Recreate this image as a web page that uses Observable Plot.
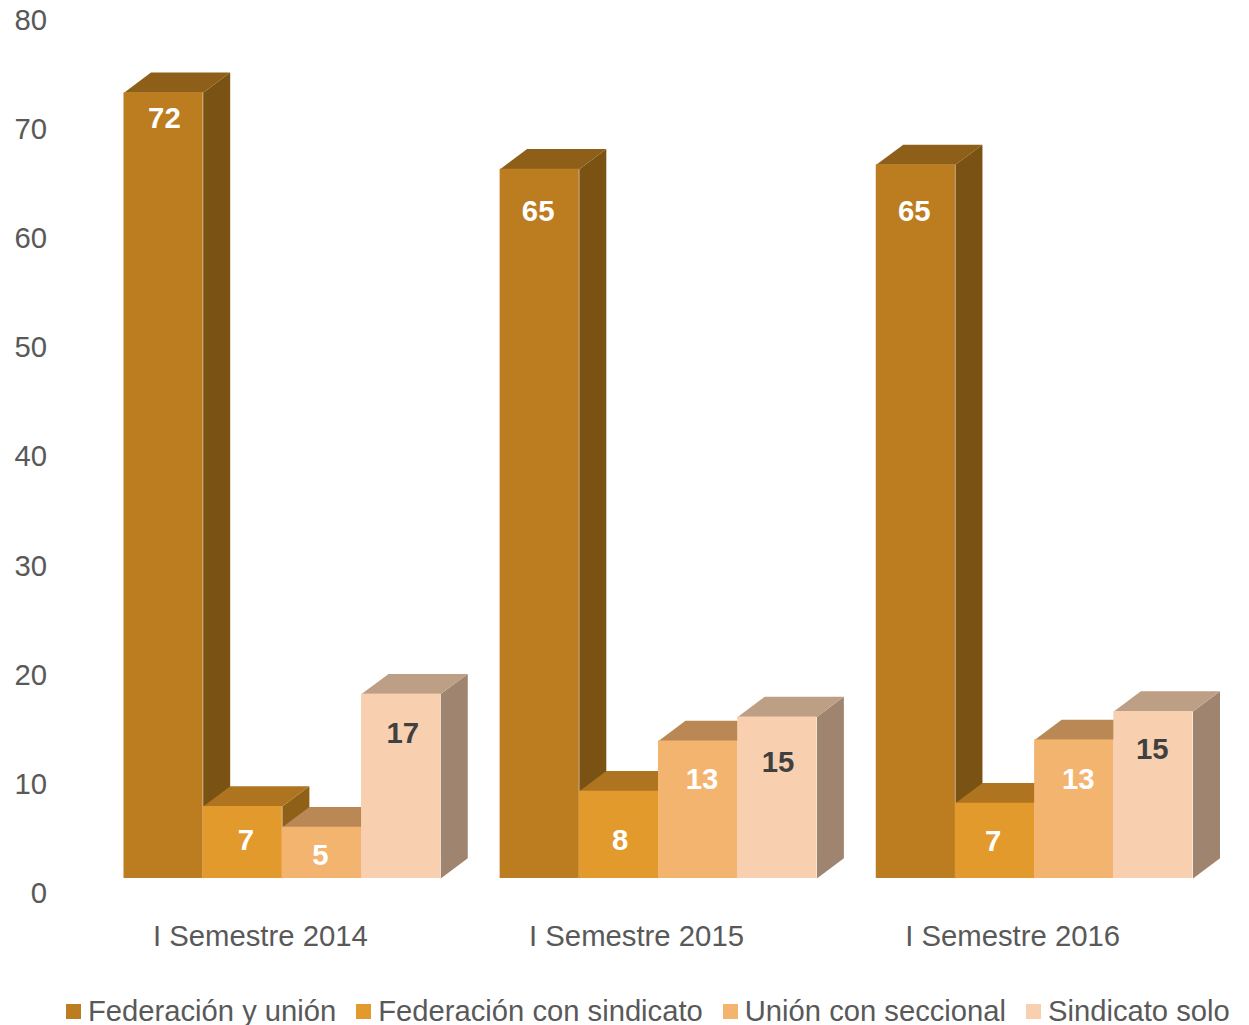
<!DOCTYPE html>
<html lang="es">
<head>
<meta charset="utf-8">
<script src="https://cdn.jsdelivr.net/npm/d3@7"></script>
<script src="https://cdn.jsdelivr.net/npm/@observablehq/plot@0.6"></script>
<style>
  html, body { margin: 0; padding: 0; background: #fff; overflow: hidden; }
  svg { display: block; }
  #legend { position: absolute; left: 66px; top: 990px; display: flex; align-items: center; height: 42px;
    font: 29.2px "Liberation Sans", Arial, sans-serif; color: #595959; white-space: nowrap; }
  #legend .item { display: flex; align-items: center; margin-right: 20px; }
  #legend .sw { width: 15px; height: 15px; margin-right: 7px; }
</style>
</head>
<body>
<div id="chart"></div>
<div id="legend"></div>
<script>
const periods = ["I Semestre 2014", "I Semestre 2015", "I Semestre 2016"];
const seriesNames = ["Federación y unión", "Federación con sindicato", "Unión con seccional", "Sindicato solo"];

// bar heights, one list per series
const federacionUnion = [72, 65, 65.4];
const federacionSindicato = [6.6, 8, 6.9];
const unionSeccional = [4.7, 12.6, 12.7];
const sindicatoSolo = [16.9, 14.8, 15.3];

// printed labels, one list per series
const labelsA = ["72", "65", "65"];
const labelsB = ["7", "8", "7"];
const labelsC = ["5", "13", "13"];
const labelsD = ["17", "15", "15"];

// where each label sits, in value units, and its sideways shift in bar widths
const labelLevelA = [69.6, 61.1, 61.1];
const labelLevelB = [3.5, 3.5, 3.4];
const labelLevelC = [2.1, 9.1, 9.1];
const labelLevelD = [13.3, 10.6, 11.8];
const labelShiftA = [0.01, -0.02, -0.02];
const labelShiftB = [0.04, 0.015, -0.025];
const labelShiftC = [-0.02, 0.05, 0.05];
const labelShiftD = [0.02, 0.01, -0.015];

// face colours per series
const frontColors = ["#BC7C20", "#E29A2C", "#F3B470", "#F8D0B0"];
const topColors = ["#8D5F18", "#AE741F", "#BA8855", "#BD9F85"];
const sideColors = ["#7A5213", "#8F6118", "#A87C4C", "#9F846F"];
const labelColors = ["#fff", "#fff", "#fff", "#404040"];

const heights = [federacionUnion, federacionSindicato, unionSeccional, sindicatoSolo];
const labels = [labelsA, labelsB, labelsC, labelsD];
const levels = [labelLevelA, labelLevelB, labelLevelC, labelLevelD];
const shifts = [labelShiftA, labelShiftB, labelShiftC, labelShiftD];

// geometry in scale units: a bar is 1 wide, groups are 4.75 apart
const groupStep = 4.75, depthX = 0.341, depthY = 1.85;

const bars = periods.flatMap((period, p) => seriesNames.map((name, s) => ({
  id: `${p}-${s}`, period, s, name,
  x1: p * groupStep + s,
  x2: p * groupStep + s + 1,
  value: heights[s][p],
  label: labels[s][p],
  labelX: p * groupStep + s + 0.5 + shifts[s][p],
  labelY: levels[s][p]
})));

const sides = bars.flatMap(b => [
  [b.x2, 0], [b.x2 + depthX, depthY], [b.x2 + depthX, b.value + depthY], [b.x2, b.value]
].map(([x, y]) => ({id: b.id, x, y, fill: sideColors[b.s]})));

const tops = bars.flatMap(b => [
  [b.x1, b.value], [b.x2, b.value], [b.x2 + depthX, b.value + depthY], [b.x1 + depthX, b.value + depthY]
].map(([x, y]) => ({id: b.id, x, y, fill: topColors[b.s]})));

const groupCentres = periods.map((_, p) => p * groupStep + 2);

const chart = Plot.plot({
  width: 1249,
  height: 985,
  marginTop: 5,
  marginBottom: 107,
  marginLeft: 123.5,
  marginRight: 56.5,
  style: {fontFamily: '"Liberation Sans", Arial, sans-serif', background: "#fff", overflow: "visible"},
  x: {domain: [0, 2 * groupStep + 4], axis: null},
  y: {domain: [0, 80], axis: null},
  marks: [
    Plot.axisY({
      ticks: d3.range(0, 81, 10), tickSize: 0, tickPadding: 77, dy: 15,
      fontSize: 29.3, fill: "#595959", label: null
    }),
    Plot.axisX({
      ticks: groupCentres, tickSize: 0, tickPadding: 46.5, dx: -22,
      tickFormat: (d, i) => periods[i],
      fontSize: 29.3, fill: "#595959", label: null
    }),
    Plot.line(sides, {x: "x", y: "y", z: "id", fill: "fill", stroke: "none", curve: "linear"}),
    Plot.line(tops, {x: "x", y: "y", z: "id", fill: "fill", stroke: "none", curve: "linear"}),
    Plot.rect(bars, {
      x1: "x1", x2: "x2", y1: () => 0, y2: "value",
      fill: d => frontColors[d.s], inset: 0
    }),
    Plot.text(bars, {
      x: "labelX", y: "labelY", text: "label",
      fill: d => labelColors[d.s], fontSize: 29.3, fontWeight: "bold", lineAnchor: "middle"
    })
  ]
});
document.getElementById("chart").appendChild(chart);

const legend = d3.select("#legend");
seriesNames.forEach((name, i) => {
  const item = legend.append("div").attr("class", "item");
  item.append("span").attr("class", "sw").style("background", frontColors[i]);
  item.append("span").text(name);
});
</script>
</body>
</html>
